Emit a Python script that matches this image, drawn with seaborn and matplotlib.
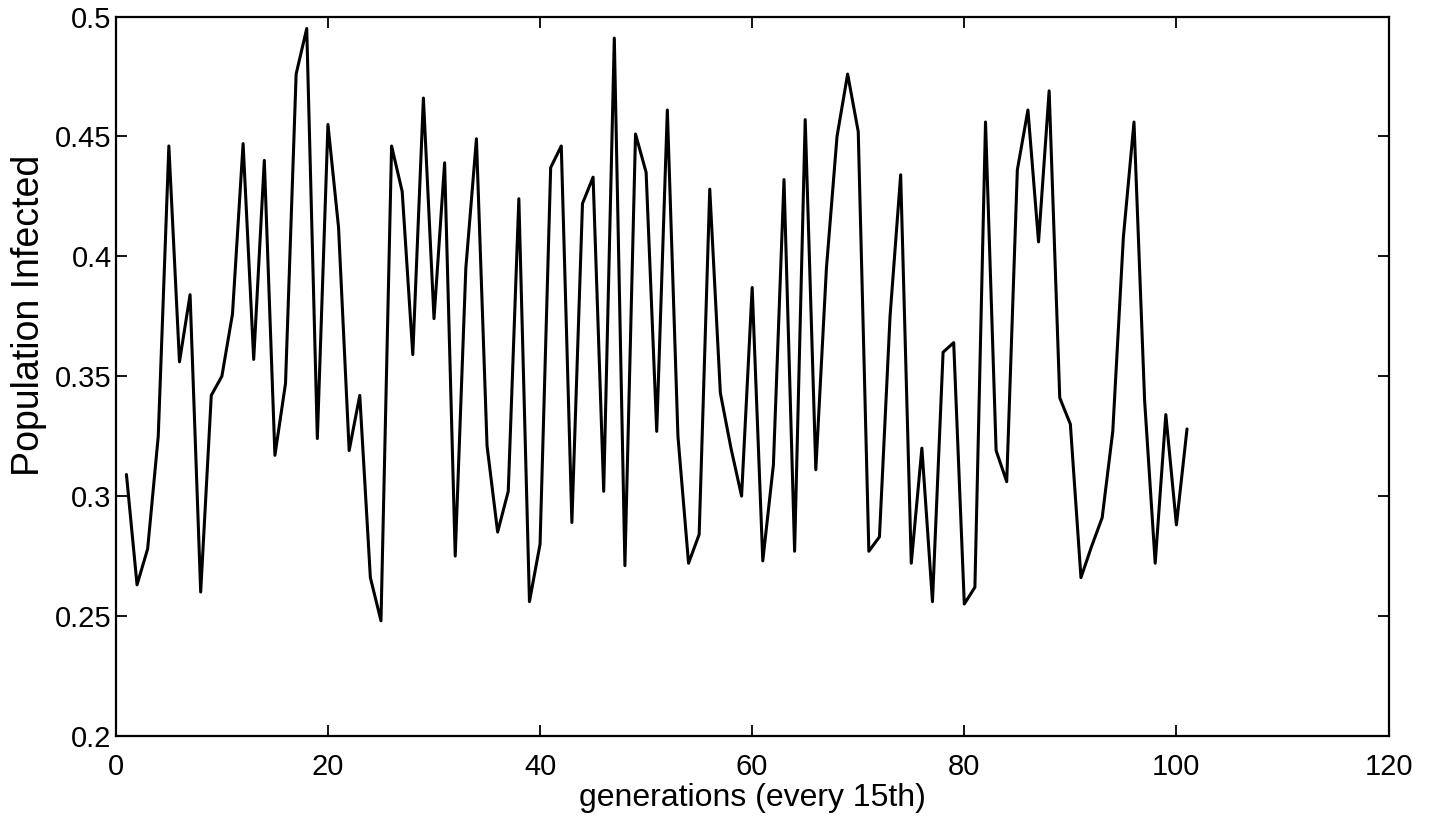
import numpy as np
import pandas as pd
import matplotlib
matplotlib.use('Agg')
import matplotlib.pyplot as plt
import seaborn as sns

# values (every 15th generation)
generation = list(range(1, 102))
infected = [
    0.309, 0.263, 0.278, 0.325, 0.446, 0.356, 0.384, 0.260, 0.342, 0.350,
    0.376, 0.447, 0.357, 0.440, 0.317, 0.347, 0.476, 0.495, 0.324, 0.455,
    0.412, 0.319, 0.342, 0.266, 0.248, 0.446, 0.427, 0.359, 0.466, 0.374,
    0.439, 0.275, 0.395, 0.449, 0.321, 0.285, 0.302, 0.424, 0.256, 0.280,
    0.437, 0.446, 0.289, 0.422, 0.433, 0.302, 0.491, 0.271, 0.451, 0.435,
    0.327, 0.461, 0.325, 0.272, 0.284, 0.428, 0.343, 0.320, 0.300, 0.387,
    0.273, 0.313, 0.432, 0.277, 0.457, 0.311, 0.395, 0.450, 0.476, 0.452,
    0.277, 0.283, 0.375, 0.434, 0.272, 0.320, 0.256, 0.360, 0.364, 0.255,
    0.262, 0.456, 0.319, 0.306, 0.436, 0.461, 0.406, 0.469, 0.341, 0.330,
    0.266, 0.279, 0.291, 0.327, 0.408, 0.456, 0.340, 0.272, 0.334, 0.288,
    0.328,
]
xticks = [0, 20, 40, 60, 80, 100, 120]
yticks = [0.2, 0.25, 0.3, 0.35, 0.4, 0.45, 0.5]
ytick_labels = ['0.2', '0.25', '0.3', '0.35', '0.4', '0.45', '0.5']

df = pd.DataFrame({'generation': generation, 'infected': infected})

sns.set_style('ticks')
plt.rcParams['font.family'] = ['Liberation Sans', 'DejaVu Sans']
plt.rcParams['text.color'] = 'black'
plt.rcParams['axes.labelcolor'] = 'black'

fig = plt.figure(figsize=(14.3, 8.25), dpi=100)
ax = fig.add_axes([0.081, 0.108, 0.890, 0.872])

sns.lineplot(data=df, x='generation', y='infected', color='black', linewidth=2.2, ax=ax)

ax.set_xlim(0, 120)
ax.set_ylim(0.2, 0.5)
ax.set_xticks(xticks)
ax.set_yticks(yticks)
ax.set_yticklabels(ytick_labels)
ax.tick_params(direction='in', length=8, width=1.3, labelsize=21,
               top=True, right=True, colors='black')
ax.tick_params(axis='x', pad=12)
ax.tick_params(axis='y', pad=3)
for s in ax.spines.values():
    s.set_visible(True)
    s.set_linewidth(1.6)
    s.set_color('black')

ax.set_xlabel('generations (every 15th)', fontsize=23, labelpad=1.5)
ax.set_ylabel('Population Infected', fontsize=27)
ax.yaxis.set_label_coords(-0.054, 0.584)

fig.savefig('out.png', dpi=100, facecolor='white')
